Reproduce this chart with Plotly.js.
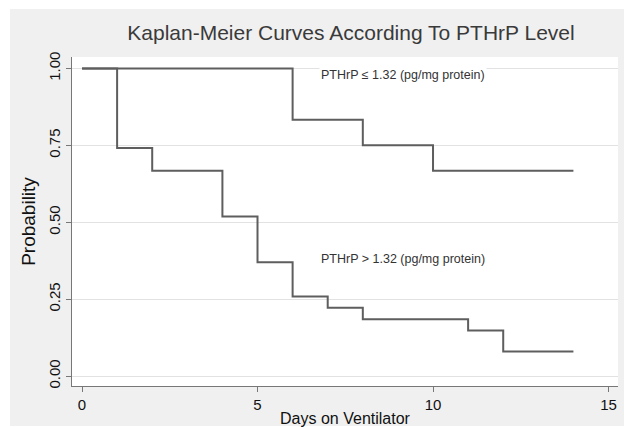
<!DOCTYPE html>
<html>
<head>
<meta charset="utf-8">
<script src="https://cdn.plot.ly/plotly-3.0.1.min.js"></script>
<style>html,body{margin:0;padding:0;background:#fff;}#chart{width:624px;height:427px;}</style>
</head>
<body>
<div id="chart"></div>
<script>
// Kaplan-Meier step data (days on ventilator, survival probability)
const lowDays  = [0, 6, 8, 10, 14];
const lowProb  = [1.0, 0.833, 0.75, 0.667, 0.667];
const highDays = [0, 1, 2, 4, 5, 6, 7, 8, 11, 12, 14];
const highProb = [1.0, 0.741, 0.667, 0.519, 0.370, 0.259, 0.222, 0.185, 0.148, 0.08, 0.08];
const groupLabels = ["PTHrP \u2264 1.32 (pg/mg protein)", "PTHrP > 1.32 (pg/mg protein)"];
const yTickVals = [0, 0.25, 0.5, 0.75, 1.0];
const yTickText = ["0.00", "0.25", "0.50", "0.75", "1.00"];
const xTickVals = [0, 5, 10, 15];

const lineStyle = {color: '#5e5e5e', width: 2, shape: 'hv'};
const traces = [
  {x: lowDays, y: lowProb, type: 'scatter', mode: 'lines', line: lineStyle, name: groupLabels[0], hoverinfo: 'skip'},
  {x: highDays, y: highProb, type: 'scatter', mode: 'lines', line: lineStyle, name: groupLabels[1], hoverinfo: 'skip'}
];

const fontFam = 'Arial, "Liberation Sans", sans-serif';
const layout = {
  width: 624, height: 427,
  margin: {l: 72, r: 6, t: 57, b: 41},
  paper_bgcolor: '#ffffff',
  plot_bgcolor: 'rgba(0,0,0,0)',
  showlegend: false,
  font: {family: fontFam, color: '#111'},
  title: {text: 'Kaplan-Meier Curves According To PTHrP Level', font: {size: 21, color: '#3a3a3a', family: fontFam},
          xref: 'paper', x: 0.511, xanchor: 'center', yref: 'container', y: 0.923, yanchor: 'middle'},
  xaxis: {
    range: [-0.285, 15.27], tickvals: xTickVals, ticks: 'outside', ticklen: 5, tickcolor: '#777',
    showline: true, linecolor: '#777', linewidth: 1, showgrid: false, zeroline: false,
    tickfont: {size: 15, color: '#111'},
    title: {text: 'Days on Ventilator', font: {size: 16, color: '#111'}, standoff: 0},
    automargin: false
  },
  yaxis: {
    range: [-0.032, 1.037], tickvals: yTickVals, ticktext: yTickText, tickangle: -90,
    ticks: 'outside', ticklen: 5, tickcolor: '#777',
    showline: true, linecolor: '#777', linewidth: 1, showgrid: true, gridcolor: '#e2e2e2', gridwidth: 1,
    zeroline: false, tickfont: {size: 15, color: '#111'},
    title: {text: 'Probability', font: {size: 19, color: '#111'}, standoff: 5},
    automargin: false
  },
  shapes: [
    {type: 'rect', xref: 'paper', yref: 'paper', x0: -0.1136, x1: 1.02, y0: -0.1216, y1: 1.1459,
     fillcolor: '#f0f0f0', line: {width: 0}, layer: 'below'},
    {type: 'rect', xref: 'paper', yref: 'paper', x0: 0, x1: 1, y0: 0, y1: 1,
     fillcolor: '#ffffff', line: {width: 0}, layer: 'below'}
  ],
  annotations: [
    {x: 6.76, y: 0.978, xref: 'x', yref: 'y', text: groupLabels[0], showarrow: false, xanchor: 'left', yanchor: 'middle',
     font: {size: 12.5, color: '#333'}, bgcolor: '#ffffff'},
    {x: 6.76, y: 0.382, xref: 'x', yref: 'y', text: groupLabels[1], showarrow: false, xanchor: 'left', yanchor: 'middle',
     font: {size: 12.5, color: '#333'}, bgcolor: '#ffffff'}
  ]
};
Plotly.newPlot('chart', traces, layout, {staticPlot: true, displayModeBar: false});
</script>
</body>
</html>
